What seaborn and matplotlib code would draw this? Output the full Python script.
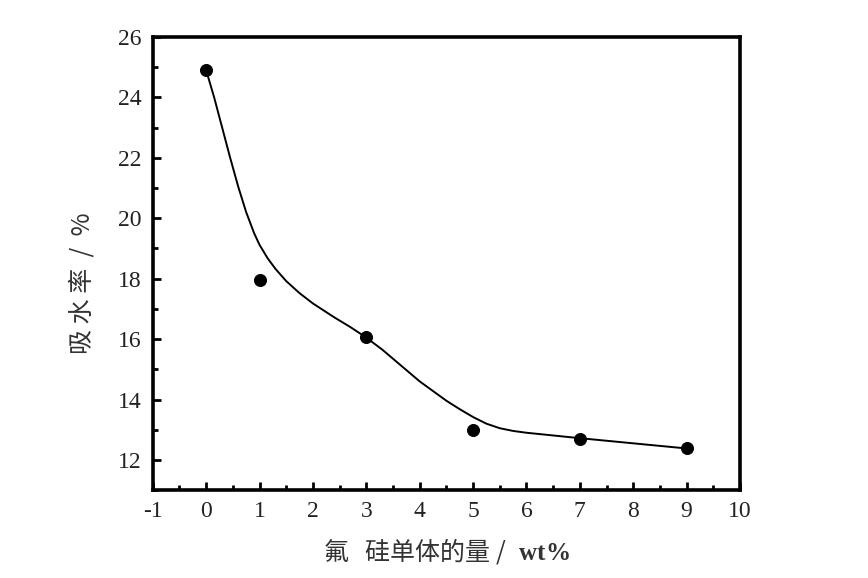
import matplotlib
matplotlib.use('Agg')
import matplotlib.pyplot as plt
from matplotlib.ticker import MultipleLocator
import seaborn as sns
import pandas as pd

# measured points
dose = [0, 1, 3, 5, 7, 9]
water_uptake = [24.92, 17.95, 16.08, 13.0, 12.7, 12.4]

# fitted curve
fit_x = [0, 0.15, 0.3, 0.45, 0.6, 0.75, 0.9, 1.0, 1.15, 1.3, 1.5, 1.75, 2.0,
         2.4, 2.7, 3.0, 3.3, 3.6, 4.0, 4.5, 4.75, 5.0, 5.25, 5.5, 5.75, 6.0,
         6.5, 7.0, 8.0, 9.0]
fit_y = [24.9, 24.0, 23.0, 22.0, 21.05, 20.2, 19.5, 19.12, 18.68, 18.32, 17.92,
         17.52, 17.18, 16.72, 16.4, 16.05, 15.65, 15.2, 14.6, 13.96, 13.68,
         13.42, 13.2, 13.05, 12.96, 12.9, 12.81, 12.72, 12.55, 12.38]

x_ticks = list(range(-1, 11))
y_ticks = list(range(12, 27, 2))

sns.set_style('ticks')
plt.rcParams['font.family'] = ['Liberation Serif', 'Noto Sans CJK SC']
plt.rcParams['xtick.direction'] = 'in'
plt.rcParams['ytick.direction'] = 'in'
plt.rcParams['axes.unicode_minus'] = False
plt.rcParams['mathtext.fontset'] = 'custom'
plt.rcParams['mathtext.rm'] = 'Liberation Serif'
plt.rcParams['mathtext.bf'] = 'Liberation Serif:bold'

fig = plt.figure(figsize=(8.68, 5.78), dpi=100)
ax = fig.add_axes([0.176, 0.152, 0.6765, 0.784])

pts = pd.DataFrame({'x': dose, 'y': water_uptake})
fit = pd.DataFrame({'x': fit_x, 'y': fit_y})

sns.lineplot(data=fit, x='x', y='y', ax=ax, color='black', linewidth=1.4,
             sort=False)
sns.scatterplot(data=pts, x='x', y='y', ax=ax, color='black', s=75,
                edgecolor='black', zorder=3)

ax.set_xlim(-1, 10)
ax.set_ylim(11, 26)
ax.set_xticks(x_ticks)
ax.set_yticks(y_ticks)
ax.xaxis.set_minor_locator(MultipleLocator(0.5))
ax.yaxis.set_minor_locator(MultipleLocator(1))
ax.tick_params(which='major', length=6, width=2, color='black',
               labelsize=17, labelcolor='#222222', pad=8)
ax.tick_params(which='minor', length=3.5, width=2, color='black')
ax.tick_params(top=False, right=False, which='both')

for sp in ax.spines.values():
    sp.set_linewidth(2.6)
    sp.set_color('black')
    sp.set_visible(True)

for lab in ax.get_xticklabels() + ax.get_yticklabels():
    lab.set_fontfamily('Liberation Serif')

cjk = ['Noto Sans CJK SC', 'Liberation Serif']
ax.set_ylabel('吸 水 率  /  %', fontsize=18, color='#333333', family=cjk)
ax.yaxis.set_label_coords(-0.098, 0.457)
ax.set_xlabel('氟   硅单体的量 / $\\mathbf{\\ wt\\%}$', fontsize=18,
              color='#333333', family=cjk, labelpad=10)

fig.savefig('out.png', dpi=100)
